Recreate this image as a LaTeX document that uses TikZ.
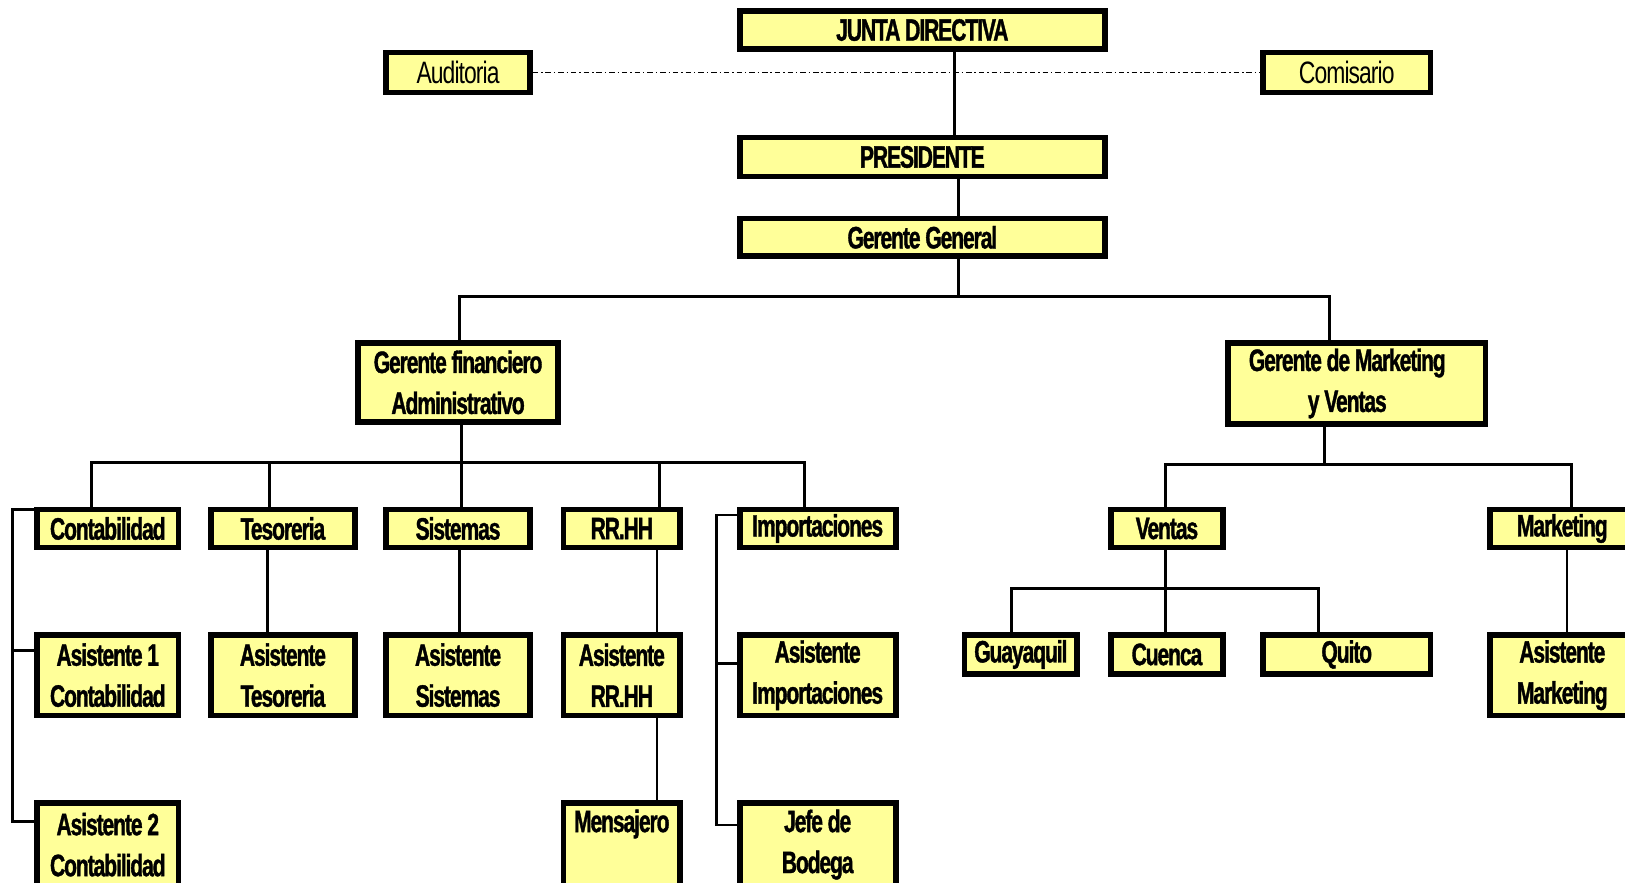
\documentclass[tikz,border=0pt]{standalone}
\usepackage{fontspec}
\setmainfont{Liberation Sans}[FakeStretch=0.68, LetterSpace=-3.5,
  BoldFeatures={FakeBold=1.2}]
\newfontfamily\thinfont{Liberation Sans}[FakeStretch=0.74, LetterSpace=-3]
\definecolor{boxfill}{RGB}{255,255,153}
\tikzset{
  orgbox/.style={draw=black, fill=boxfill, line width=0.11cm, inner sep=0pt,
    align=center, font=\fontsize{17}{22.5}\selectfont\bfseries},
  thinbox/.style={font=\fontsize{17}{22.5}\selectfont\thinfont},
  conn/.style={draw=black, line width=0.055cm},
  dotline/.style={draw=black, line width=0.025cm,
    dash pattern=on 3pt off 1.6pt on 0.8pt off 1.6pt}
}
% \orgunit[extra]{name}{x1}{y1}{x2}{y2}{text}: box given by its outer edges
\newcommand\orgunit[7][]{%
  \node[orgbox,#1,minimum width={(#5-#3-5.5)*0.02cm},
        minimum height={(#6-#4-5.5)*0.02cm}]
    (#2) at ({(#3+#5)/2},{(#4+#6)/2}) {#7};}
\begin{document}
\begin{tikzpicture}[x=0.02cm,y=-0.02cm]
\useasboundingbox (0,0) rectangle (1568,852);
\clip (0,0) rectangle (1568,852);

% top management
\orgunit{jd}{711}{8}{1069}{50}{JUNTA DIRECTIVA}
\orgunit[thinbox]{aud}{370}{48}{514}{92}{Auditoria}
\orgunit[thinbox]{com}{1216}{48}{1383}{92}{Comisario}
\orgunit{pres}{711}{130}{1069}{173}{PRESIDENTE}
\orgunit{gg}{711}{208}{1069}{250}{Gerente General}
\orgunit{gfa}{343}{328}{541}{410}{Gerente financiero\\Administrativo}
\orgunit{gmv}{1182}{328}{1436}{412}{Gerente de Marketing\kern0.36cm\\y Ventas\kern0.36cm}

% departments
\orgunit{cont}{33}{489}{175}{531}{Contabilidad}
\orgunit{tes}{201}{489}{345}{531}{Tesoreria}
\orgunit{sis}{370}{489}{514}{531}{Sistemas}
\orgunit{rrhh}{541}{489}{659}{531}{RR.HH}
\orgunit{imp}{711}{489}{867}{531}{Importaciones}
\orgunit{ven}{1069}{489}{1183}{531}{Ventas}
\orgunit{mkt}{1435}{489}{1580}{531}{Marketing}

% assistants and branches
\orgunit{acont1}{33}{610}{175}{693}{Asistente 1\\Contabilidad}
\orgunit{ates}{201}{610}{345}{693}{Asistente\\Tesoreria}
\orgunit{asis}{370}{610}{514}{693}{Asistente\\Sistemas}
\orgunit{arrhh}{541}{610}{659}{693}{Asistente\\RR.HH}
\orgunit{aimp}{711}{610}{867}{693}{Asistente\\Importaciones}
\orgunit{guay}{928}{610}{1042}{653}{Guayaquil}
\orgunit{cue}{1069}{610}{1183}{653}{Cuenca}
\orgunit{qui}{1216}{610}{1383}{653}{Quito}
\orgunit{amkt}{1435}{610}{1580}{693}{Asistente\\Marketing}

\orgunit{acont2}{33}{772}{175}{858}{Asistente 2\\Contabilidad}
\orgunit{mens}{541}{772}{659}{858}{Mensajero\\\phantom{Bodega}}
\orgunit{jefe}{711}{772}{867}{858}{Jefe de\\Bodega}

% staff line
\draw[dotline] (aud.east) -- (com.west);

% chain of command
\draw[conn] (jd.south -| 921,0) -- (pres.north -| 921,0);
\draw[conn] (pres.south -| 925,0) -- (gg.north -| 925,0);
\draw[conn] (gg.south -| 925,0) -- (925,286);
\draw[conn] (gfa.north -| 443,0) -- (443,286) -- (1283,286) -- (gmv.north -| 1283,0);

% finance branch
\draw[conn] (gfa.south -| 445,0) -- (445,446);
\draw[conn] (cont.north -| 88,0) -- (88,446) -- (776,446) -- (imp.north -| 776,0);
\draw[conn] (tes.north -| 260,0) -- (260,446);
\draw[conn] (sis.north -| 445,0) -- (445,446);
\draw[conn] (rrhh.north -| 636,0) -- (636,446);

\draw[conn] (cont.west |- 0,492) -- (12,492) -- (12,793) -- (acont2.west |- 0,793);
\draw[conn] (12,628) -- (acont1.west |- 0,628);
\draw[conn] (tes.south -| 258,0) -- (ates.north -| 258,0);
\draw[conn] (sis.south -| 443,0) -- (asis.north -| 443,0);
\draw[conn] (rrhh.south -| 634,0) -- (arrhh.north -| 634,0);
\draw[conn] (arrhh.south -| 634,0) -- (mens.north -| 634,0);
\draw[conn] (imp.west |- 0,497) -- (691,497) -- (691,796) -- (jefe.west |- 0,796);
\draw[conn] (691,640) -- (aimp.west |- 0,640);

% marketing branch
\draw[conn] (gmv.south -| 1278,0) -- (1278,448);
\draw[conn] (ven.north -| 1125,0) -- (1125,448) -- (1516,448) -- (mkt.north -| 1516,0);
\draw[conn] (ven.south -| 1125,0) -- (1125,568);
\draw[conn] (guay.north -| 976,0) -- (976,568) -- (1272,568) -- (qui.north -| 1272,0);
\draw[conn] (cue.north -| 1125,0) -- (1125,568);
\draw[conn] (mkt.south -| 1512,0) -- (amkt.north -| 1512,0);
\end{tikzpicture}
\end{document}
